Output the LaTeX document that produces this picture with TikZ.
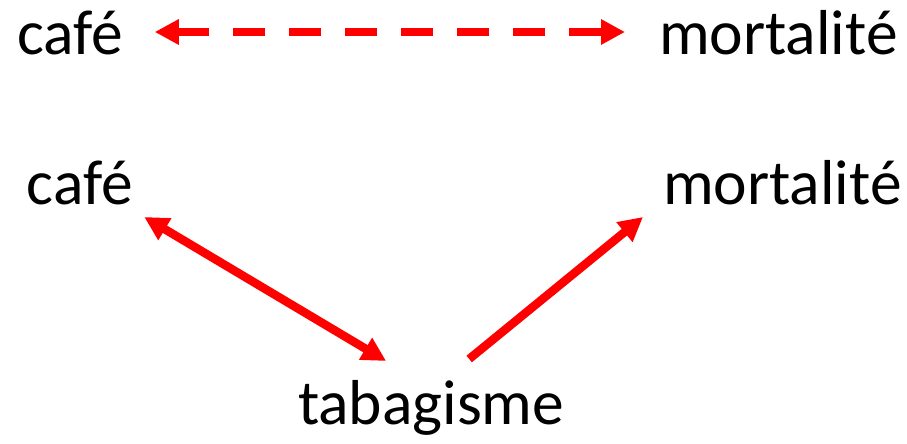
\documentclass[tikz,border=0pt]{standalone}
\usepackage{fontspec}
\setmainfont{Carlito}
\usetikzlibrary{arrows.meta}
\definecolor{arrowred}{HTML}{FF0000}
\tikzset{
  lbl/.style={inner sep=0pt, outer sep=0pt, font=\fontsize{63.5}{70}\selectfont, text=black},
  link/.style={draw=arrowred, line width=8.5pt, line cap=butt,
    arrows={-Triangle[length=24pt, width=24pt]}},
  twoway/.style={link, arrows={Triangle[length=24pt, width=24pt]-Triangle[length=24pt, width=24pt]}},
  dashlink/.style={dash pattern=on 32pt off 24pt}
}
\begin{document}
\begin{tikzpicture}[x=1pt, y=1pt]
  \useasboundingbox (0,0) rectangle (907,444);

  % upper pair: spurious association
  \node[lbl, anchor=base west] (cafeA) at (17,389) {café};
  \node[lbl, anchor=base west] (mortA) at (659,389) {mortalité};

  % lower triangle: confounding by smoking
  \node[lbl, anchor=base west] (cafeB) at (27,239) {café};
  \node[lbl, anchor=base west] (mortB) at (663,239) {mortalité};
  \node[lbl, anchor=base west] (tabac) at (298,19) {tabagisme};

  \draw[twoway, dashlink] ([shift={(32pt,23pt)}]cafeA.base east) -- ([shift={(-34pt,23pt)}]mortA.base west);

  \draw[twoway] ([shift={(11.5pt,-12pt)}]cafeB.base east) -- ([shift={(-45pt,64pt)}]tabac.base);
  \draw[link] ([shift={(38pt,66pt)}]tabac.base) -- ([shift={(-20pt,-12pt)}]mortB.base west);
\end{tikzpicture}
\end{document}
